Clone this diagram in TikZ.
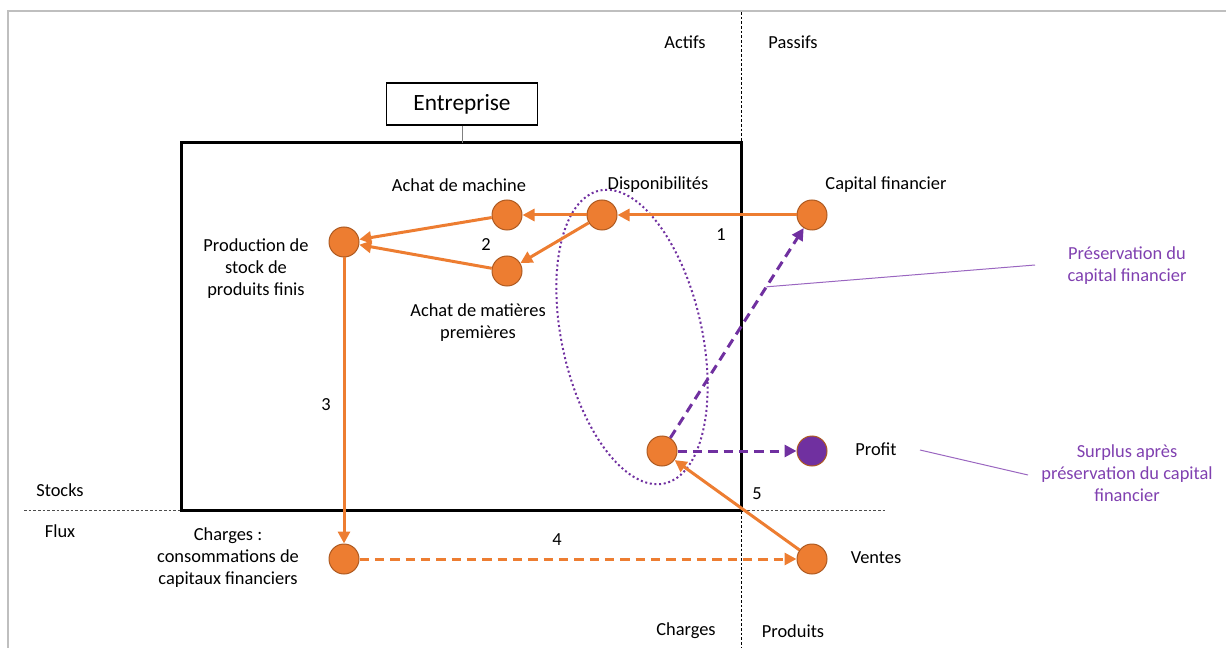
\documentclass[tikz,border=0pt]{standalone}
\usepackage{fontspec}
\setmainfont{Carlito}
\usepackage{tikz}
\usetikzlibrary{arrows.meta}

\definecolor{orangeflux}{RGB}{237,125,49}
\definecolor{orangebord}{RGB}{174,90,33}
\definecolor{violetprofit}{RGB}{112,48,160}
\definecolor{violettexte}{RGB}{128,64,176}

\begin{document}
\begin{tikzpicture}[x=0.75pt,y=0.75pt,yscale=-1,xscale=1,
    flux/.style={circle, draw=orangebord, fill=orangeflux, line width=0.75pt, minimum size=22.5pt, inner sep=0pt},
    fleche/.style={draw=orangeflux, line width=2.25pt, -{Triangle[length=9pt,width=9pt]}},
    flechev/.style={draw=violetprofit, line width=2.25pt, -{Triangle[length=9pt,width=9pt]}, dash pattern=on 7pt off 4.5pt},
    txt/.style={font=\fontsize{13.8}{16.5}\selectfont, align=center, inner sep=0pt},
    note/.style={txt, text=violettexte},
    separ/.style={line width=0.6pt, dash pattern=on 2pt off 1.5pt}]
    \useasboundingbox (0,0) rectangle (1226,648);

    %Frame
    \draw [black!25, line width=1.5pt] (8,648) -- (8,11) -- (1226,11) ;
    %Separators actifs/passifs and stocks/flux
    \draw [separ] (741,12) -- (741,648) ;
    \draw [separ, black!70] (24,510) -- (885,510) ;
    %Shape: Rectangle Entreprise
    \draw [line width=2.25pt] (181,143) rectangle (741,510) ;
    \coordinate (haut) at (462,143) ;
    \node [draw, line width=1pt, minimum width=113pt, minimum height=31.5pt, inner sep=0pt, font=\fontsize{17.5}{21}\selectfont] (ent) at (462,104) {Entreprise};
    \draw [black!50, line width=0.75pt] (ent) -- (haut) ;

    %Dotted ellipse
    \draw [violetprofit, line width=1.5pt, dash pattern=on 1.5pt off 2pt, rotate around={-12.5:(632,337)}] (632,337) ellipse [x radius=70, y radius=150] ;

    %Circles
    \node [flux] (disp) at (602,215) {};
    \node [flux] (mach) at (507,215) {};
    \node [flux] (mat) at (507,271) {};
    \node [flux] (prod) at (344,242) {};
    \node [flux] (capital) at (812,215) {};
    \node [flux] (gain) at (662,451) {};
    \node [flux, fill=violetprofit] (profit) at (812,451) {};
    \node [flux] (charges) at (344,559) {};
    \node [flux] (ventes) at (812,559) {};

    %Arrows
    \draw [fleche] (capital) -- (disp) ;
    \draw [fleche] (disp) -- (mach) ;
    \draw [fleche] (disp) -- (mat) ;
    \draw [fleche] (mach) -- (prod) ;
    \draw [fleche] (mat) -- (prod) ;
    \draw [fleche] (prod) -- (charges) ;
    \draw [fleche, dash pattern=on 7pt off 4.5pt] (charges) -- (ventes) ;
    \draw [fleche] (ventes) -- (gain) ;
    \draw [flechev] (gain) -- (profit) ;
    \draw [flechev] (gain) -- coordinate[pos=0.72] (pres) (capital) ;

    %Annotation lines
    \coordinate (pres2) at (1035,265) ;
    \coordinate (surp1) at (920,450) ;
    \coordinate (surp2) at (1028,475) ;
    \draw [violettexte!80, line width=0.75pt] (pres) -- (pres2) ;
    \draw [violettexte!80, line width=0.75pt] (surp1) -- (surp2) ;

    % Text Node
    \node [txt] (actifs) at (685,42) {Actifs};
    \node [txt] (passifs) at (793,42) {Passifs};
    \node [txt] (lcharges) at (686,631) {Charges};
    \node [txt] (produits) at (793,631) {Produits};
    \node [txt] (stocks) at (60,490) {Stocks};
    \node [txt] (lflux) at (60,531) {Flux};
    % Text Node
    \node [txt] (lmach) at (459,185) {Achat de machine};
    \node [txt] (ldisp) at (658,185) {Disponibilités};
    \node [txt] (lcap) at (886,185) {Capital financier};
    \node [txt] (lprod) at (256,269) {Production de\\stock de\\produits finis};
    \node [txt] (lmat) at (478,323) {Achat de matières\\premières};
    \node [txt] (lprofit) at (876,449) {Profit};
    \node [txt] (lventes) at (876,558) {Ventes};
    \node [txt] (lch) at (228,558) {Charges :\\consommations de\\capitaux financiers};
    % Numbers
    \node [txt] (n1) at (721,235) {1};
    \node [txt] (n2) at (486,245) {2};
    \node [txt] (n3) at (326,405) {3};
    \node [txt] (n4) at (557,540) {4};
    \node [txt] (n5) at (757,494) {5};
    % Notes
    \node [note] (npres) at (1127,266) {Préservation du\\capital financier};
    \node [note] (nsurp) at (1127,473) {Surplus après\\préservation du capital\\financier};
\end{tikzpicture}
\end{document}
